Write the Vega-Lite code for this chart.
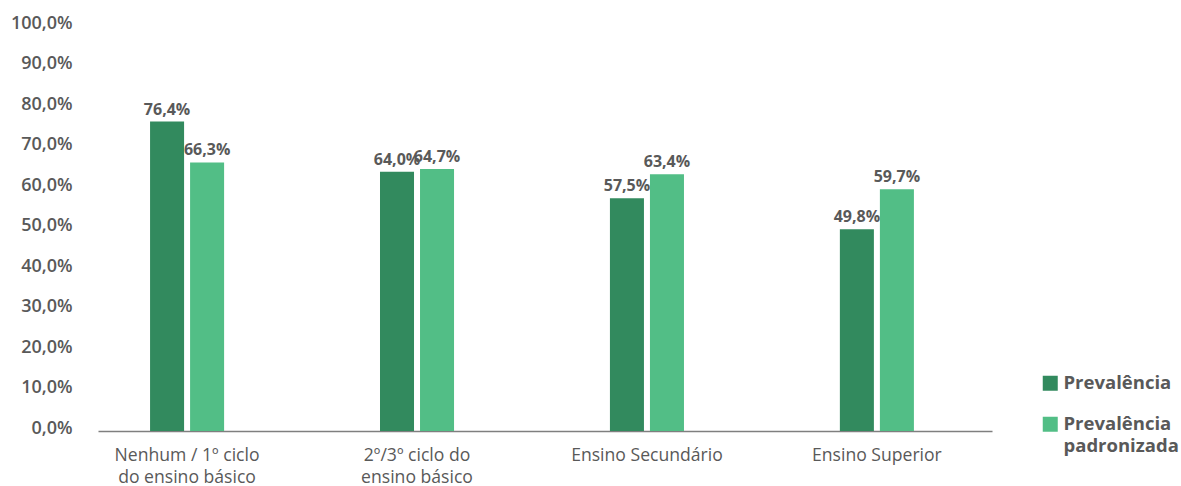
{
  "$schema": "https://vega.github.io/schema/vega-lite/v6.json",
  "autosize": {"type": "none"},
  "width": 894,
  "height": 405,
  "padding": {"left": 98, "top": 26, "right": 189, "bottom": 55},
  "background": "white",
  "config": {
    "view": {"stroke": null},
    "font": "Open Sans",
    "style": {"guide-label": {"lineHeight": 22}},
    "locale": {"number": {"decimal": ",", "thousands": ".", "grouping": [3], "currency": ["", " €"]}}
  },
  "data": {
    "values": [
      {"cat": "Nenhum / 1º ciclo|do ensino básico", "serie": "Prevalência", "value": 0.764},
      {"cat": "Nenhum / 1º ciclo|do ensino básico", "serie": "Prevalência padronizada", "value": 0.663},
      {"cat": "2º/3º ciclo do|ensino básico", "serie": "Prevalência", "value": 0.640},
      {"cat": "2º/3º ciclo do|ensino básico", "serie": "Prevalência padronizada", "value": 0.647},
      {"cat": "Ensino Secundário", "serie": "Prevalência", "value": 0.575},
      {"cat": "Ensino Secundário", "serie": "Prevalência padronizada", "value": 0.634},
      {"cat": "Ensino Superior", "serie": "Prevalência", "value": 0.498},
      {"cat": "Ensino Superior", "serie": "Prevalência padronizada", "value": 0.597}
    ]
  },
  "encoding": {
    "x": {
      "field": "cat", "type": "nominal", "sort": null,
      "scale": {"paddingInner": 0.678, "paddingOuter": 0.283, "align": 0.4},
      "axis": {
        "title": null, "labelAngle": 0, "ticks": false,
        "domainColor": "#7f7f7f", "domainWidth": 1.5,
        "labelFont": "Open Sans", "labelFontSize": 17.6, "labelColor": "#595959",
        "labelPadding": 15, "labelLineHeight": 22,
        "labelExpr": "split(datum.label, '|')"
      }
    },
    "xOffset": {"field": "serie", "type": "nominal", "scale": {"paddingInner": 0.15}},
    "y": {
      "field": "value", "type": "quantitative",
      "scale": {"domain": [0, 1], "nice": false},
      "axis": {
        "title": null, "domain": false, "ticks": false, "grid": false,
        "values": [0, 0.1, 0.2, 0.3, 0.4, 0.5, 0.6, 0.7, 0.8, 0.9, 1],
        "format": ".1%", "labelFont": "Open Sans", "labelFontSize": 18, "labelFontWeight": 600,
        "labelColor": "#595959", "labelPadding": 26, "labelOffset": -3
      }
    }
  },
  "layer": [
    {
      "mark": {"type": "bar"},
      "encoding": {
        "color": {
          "field": "serie", "type": "nominal",
          "scale": {"domain": ["Prevalência", "Prevalência padronizada"], "range": ["#328a5e", "#52be86"]},
          "legend": {
            "title": null, "orient": "none", "legendX": 943, "legendY": 348,
            "symbolType": "square", "symbolSize": 225, "symbolStrokeWidth": 0,
            "labelFont": "Open Sans", "labelFontSize": 18.5, "labelFontWeight": "bold", "labelColor": "#595959",
            "labelLimit": 200, "rowPadding": 22, "labelOffset": 4,
            "labelExpr": "datum.label == 'Prevalência padronizada' ? ['Prevalência', 'padronizada'] : datum.label"
          }
        }
      }
    },
    {
      "mark": {"type": "text", "baseline": "bottom", "dy": -4, "font": "Open Sans", "fontSize": 16, "fontWeight": "bold", "color": "#595959"},
      "encoding": {
        "text": {"field": "value", "type": "quantitative", "format": ".1%"}
      }
    }
  ]
}
